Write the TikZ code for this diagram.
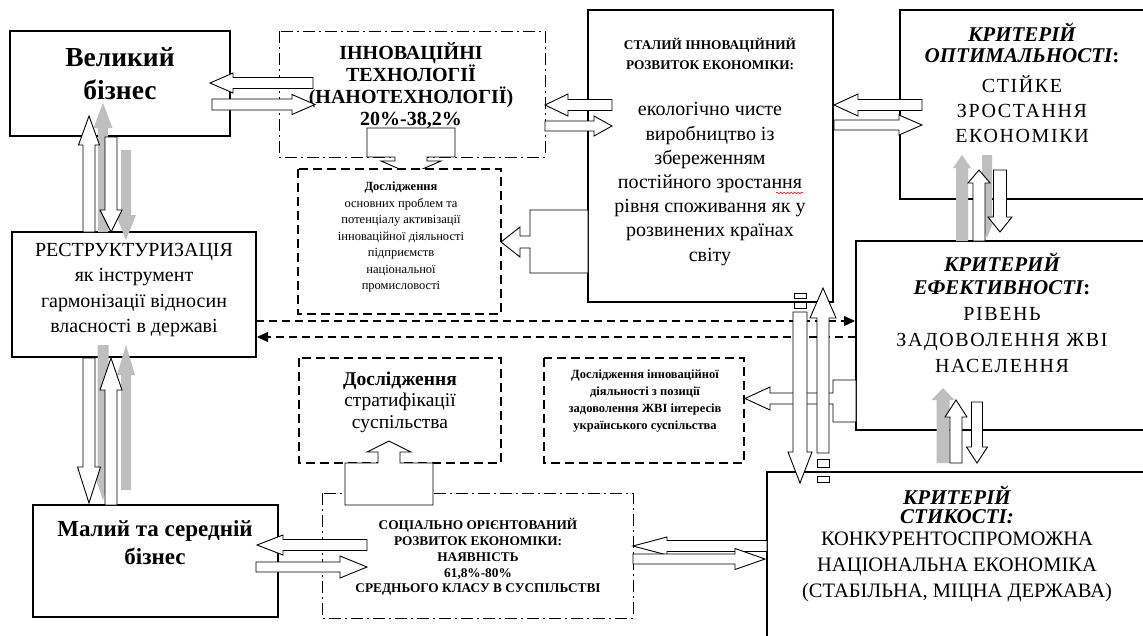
\documentclass[tikz,border=0pt]{standalone}
\usepackage{fontspec}
\setmainfont{Liberation Serif}
\newfontfamily\spacedfont[LetterSpace=8]{Liberation Serif}
\usetikzlibrary{arrows.meta,decorations.pathmorphing}
\newcommand{\fsz}[2]{\fontsize{#1pt}{#2pt}\selectfont}
% horizontal block arrow: style, tail x, head-base x, tip x, y, half shaft, half head
\newcommand{\blkh}[7]{\path[#1] (#2,{#5-#6}) -- (#3,{#5-#6}) -- (#3,{#5-#7}) -- (#4,#5) -- (#3,{#5+#7}) -- (#3,{#5+#6}) -- (#2,{#5+#6}) -- cycle;}
% vertical block arrow: style, tail y, head-base y, tip y, x, half shaft, half head
\newcommand{\blkv}[7]{\path[#1] ({#5-#6},#2) -- ({#5-#6},#3) -- ({#5-#7},#3) -- (#5,#4) -- ({#5+#7},#3) -- ({#5+#6},#3) -- ({#5+#6},#2) -- cycle;}
\begin{document}
\begin{tikzpicture}[x=1pt,y=-1pt,
  box/.style={draw, line width=1.1pt, fill=white},
  dbox/.style={draw, line width=1.3pt, dash pattern=on 9pt off 5pt, fill=white},
  ddbox/.style={draw, line width=1pt, dash pattern=on 12pt off 4pt on 2pt off 4pt, fill=white},
  warr/.style={draw, line width=0.9pt, fill=white, line join=miter},
  garr/.style={fill=black!25},
  dline/.style={line width=1.1pt, dash pattern=on 8pt off 5pt},
  txt/.style={align=center, inner sep=0pt, text=black},
  tip/.style={-{Triangle[length=11pt,width=10pt]}}
]
\useasboundingbox (0,0) rectangle (1143,635);
\clip (0,0) rectangle (1143,635);

% ---------- boxes ----------
\draw[box] (10,31) rectangle (230,136);
\draw[ddbox] (279,31) rectangle (545,157);
\draw[box] (588,10) rectangle (833,302);
\draw[box] (900,10) rectangle (1160,199);
\draw[box] (12,232) rectangle (256,357);
\draw[box] (856,241) rectangle (1160,430);
\draw[dbox] (299,358) rectangle (501,463);
\draw[dbox] (544,358) rectangle (744,463);
\draw[box] (33,505) rectangle (278,617);
\draw[ddbox] (322,493) rectangle (633,618);
\draw[box] (767,472) rectangle (1160,660);

% down callout from innovation box
\path[warr] (367,128) -- (455,128) -- (455,157) -- (427,157) -- (427,161) -- (441,161) -- (411,174) -- (381,161) -- (395,161) -- (395,157) -- (367,157) -- cycle;
\draw[dbox] (298,169) rectangle (501,314);

% ---------- texts ----------
\node[txt, font=\fsz{27.5}{33}\bfseries] (tVB) at (120,74) {Великий\\бізнес};
\node[txt, font=\fsz{20}{22}\bfseries] (tIT) at (411,86) {ІННОВАЦІЙНІ\\ТЕХНОЛОГІЇ\\(НАНОТЕХНОЛОГІЇ)\\20\%-38,2\%};
\node[txt, font=\fsz{13.3}{20}\bfseries] (tSR1) at (710,54) {СТАЛИЙ ІННОВАЦІЙНИЙ\\РОЗВИТОК ЕКОНОМІКИ:};
\node[txt, font=\fsz{20}{24.2}] (tSR2) at (710,184) {екологічно чисте\\виробництво із\\збереженням\\постійного зростання\\рівня споживання як у\\розвинених країнах\\світу};
\coordinate (sq1) at (776,193);
\coordinate (sq2) at (803,193);
\draw[red, line width=0.6pt, decorate, decoration={snake, amplitude=0.9pt, segment length=3.5pt}] (sq1) -- (sq2);
\node[txt, font=\fsz{21}{21}\bfseries\itshape] (tKO1) at (1022,43) {КРИТЕРІЙ\\ОПТИМАЛЬНОСТІ{\upshape:}};
\node[txt, font=\fsz{20}{25}\spacedfont] (tKO2) at (1022,109) {СТІЙКЕ\\ЗРОСТАННЯ\\ЕКОНОМІКИ};
\node[txt, font=\fsz{12.5}{16.5}] (tDO) at (401,237) {\textbf{Дослідження}\\основних проблем та\\потенціалу активізації\\інноваційної діяльності\\підприємств\\національної\\промисловості};
\node[txt, font=\fsz{20}{25.3}] (tRS) at (134,290) {РЕСТРУКТУРИЗАЦІЯ\\як інструмент\\гармонізації відносин\\власності в державі};
\node[txt, font=\fsz{21}{23}\bfseries\itshape] (tKE1) at (1002,274) {КРИТЕРИЙ\\ЕФЕКТИВНОСТІ{\upshape:}};
\node[txt, font=\fsz{20}{26}\spacedfont] (tKE2) at (1002,340) {РІВЕНЬ\\ЗАДОВОЛЕННЯ ЖВІ\\НАСЕЛЕННЯ};
\node[txt, font=\fsz{19.5}{21.5}] (tST) at (400,402) {\textbf{Дослідження}\\стратифікації\\суспільства};
\node[txt, font=\fsz{12.5}{17}\bfseries] (tDI) at (645,401) {Дослідження інноваційної\\діяльності з позиції\\задоволення ЖВІ інтересів\\українського суспільства};
\node[txt, font=\fsz{23}{28}\bfseries] (tMB) at (155,543) {Малий та середній\\бізнес};
\node[txt, font=\fsz{13.3}{15.75}\bfseries] (tSO) at (478,557) {СОЦІАЛЬНО ОРІЄНТОВАНИЙ\\РОЗВИТОК ЕКОНОМІКИ:\\НАЯВНІСТЬ\\61,8\%-80\%\\СРЕДНЬОГО КЛАСУ В СУСПІЛЬСТВІ};
\node[txt, font=\fsz{21}{19.5}\bfseries\itshape] (tKS1) at (957,505) {КРИТЕРІЙ\\СТИКОСТІ:};
\node[txt, font=\fsz{20.5}{26}] (tKS2) at (957,567) {КОНКУРЕНТОСПРОМОЖНА\\НАЦІОНАЛЬНА ЕКОНОМІКА\\(СТАБІЛЬНА, МІЦНА ДЕРЖАВА)};

% ---------- dashed connectors ----------
\coordinate (rsA) at (256,321);
\coordinate (keA) at (855,321);
\coordinate (keB) at (856,337);
\coordinate (rsB) at (257,337);
\draw[dline, tip] (rsA) -- (keA);
\draw[dline, tip] (keB) -- (rsB);

% ---------- callouts ----------
\path[warr] (588,210) -- (530,210) -- (530,236) -- (520,236) -- (520,227) -- (501,242) -- (520,257) -- (520,248) -- (530,248) -- (530,273) -- (588,273) -- cycle;
\path[warr] (345,505) -- (345,463) -- (378,463) -- (378,452) -- (367,452) -- (389,441) -- (411,452) -- (400,452) -- (400,463) -- (433,463) -- (433,505) -- cycle;
\path[warr] (856,380) -- (833,380) -- (833,393) -- (770,393) -- (770,387) -- (745,398.5) -- (770,410) -- (770,404) -- (833,404) -- (833,422) -- (856,422) -- cycle;

% ---------- horizontal block arrows ----------
\blkh{warr}{313}{233}{210}{83}{5.5}{10}
\blkh{warr}{212}{292}{315}{104.5}{5.5}{10}
\blkh{warr}{612}{568}{545}{105}{5.5}{11}
\blkh{warr}{545}{594}{612}{126}{5}{10}
\blkh{warr}{922}{858}{834}{105}{5.5}{11}
\blkh{warr}{834}{899}{922}{125}{5}{10}
\blkh{warr}{367}{283}{257}{545}{5.5}{10}
\blkh{warr}{256}{340}{367}{567}{5}{11}
\blkh{warr}{767}{667}{633}{546}{5.5}{9}
\blkh{warr}{633}{735}{765}{559}{5}{10.5}

% ---------- vertical block arrows ----------
% Великий <-> реструктуризація
\blkv{garr}{232}{128}{103}{103}{5}{9.5}
\blkv{garr}{150}{215}{240}{126}{5}{10}
\blkv{warr}{232}{145}{116}{89}{6}{10.5}
\blkv{warr}{137}{210}{232}{111}{6}{11}
% реструктуризація <-> малий
\blkv{garr}{345}{470}{500}{103}{5.5}{10}
\blkv{garr}{490}{375}{345}{126}{5}{9}
\blkv{warr}{505}{390}{358}{111}{6}{11}
\blkv{warr}{358}{467}{503}{89}{6}{11.5}
% оптимальність <-> ефективність
\blkv{garr}{241}{168}{155}{962}{6}{9}
\blkv{garr}{155}{215}{238}{987}{5}{9}
\blkv{warr}{241}{183}{170}{979}{6}{11}
\blkv{warr}{170}{217}{232}{1000}{6.5}{12}
% ефективність <-> стійкість
\blkv{garr}{463}{400}{388}{943}{6.5}{11.5}
\blkv{warr}{463}{417}{400}{956}{6}{11}
\blkv{warr}{402}{447}{463}{977}{5.5}{10.5}
% long striped arrows
\path[warr] (794,293) rectangle (806,298);
\path[warr] (794,302) rectangle (806,308);
\blkv{warr}{312}{452}{483}{800}{7}{12}
\blkv{warr}{453}{318}{288}{823}{6}{13}
\path[warr] (817,459) rectangle (829,467);
\path[warr] (817,476) rectangle (829,482);
\end{tikzpicture}
\end{document}
